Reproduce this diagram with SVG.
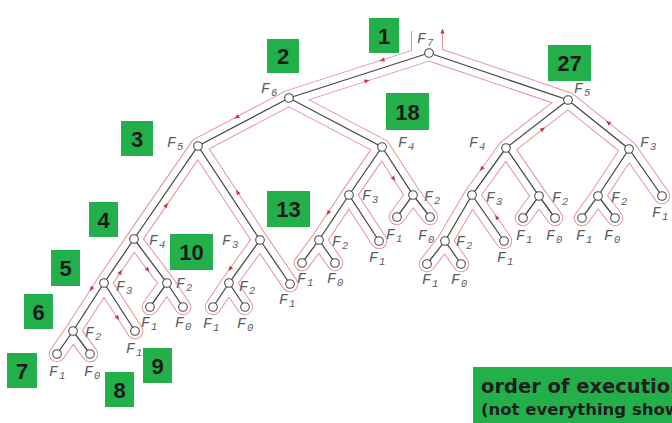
<svg xmlns="http://www.w3.org/2000/svg" xmlns:xlink="http://www.w3.org/1999/xlink" width="672" height="423" viewBox="0 0 672 423">
<style>
.tube-o{fill:none;stroke:#e3959b;stroke-width:16.5;stroke-linecap:round;stroke-linejoin:round}
.tube-i{fill:none;stroke:#ffffff;stroke-width:14.5;stroke-linecap:round;stroke-linejoin:round}
.top-o{fill:none;stroke:#e3959b;stroke-width:32;stroke-linecap:butt}
.top-i{fill:none;stroke:#ffffff;stroke-width:30;stroke-linecap:butt}
.edge{fill:none;stroke:#4a4a4a;stroke-width:1.3;stroke-linecap:round}
.node circle{fill:#ffffff;stroke:#4a4a4a;stroke-width:1.1}
.node text{font-family:"Liberation Mono","DejaVu Sans Mono",monospace;font-style:italic;font-size:15px;fill:#5c5c5c}
.node tspan{font-size:10.5px}
.badge rect{fill:#23b04b}
.badge text{font-family:"Liberation Sans",Arial,sans-serif;font-weight:bold;font-size:22px;fill:#1b1b1b;text-anchor:middle}
.note text{font-family:"DejaVu Sans",sans-serif;font-weight:bold;fill:#1f1f1f}
.ah{fill:#cc3344}
</style>
<defs>
<path id="tree" d="M429 53 L289 98 L198 146 L134 239 L104 283 L73 331 L57 354 M73 331 L90 354 M104 283 L135 331 M134 239 L167 283 L150 307 M167 283 L183 307 M198 146 L260 240 L229 283 L213 307 M229 283 L245 307 M260 240 L290 284 M289 98 L382 147 L349 195 L319 240 L302 263 M319 240 L335 263 M349 195 L379 241 M382 147 L413 195 L397 217 M413 195 L430 217 M429 53 L568 100 L506 148 L472 195 L445 241 L427 264 M445 241 L461 264 M472 195 L504 241 M506 148 L539 196 L523 218 M539 196 L555 218 M568 100 L629 149 L598 196 L582 218 M598 196 L615 218 M629 149 L662 196"/>
<path id="ahd" class="ah" d="M2.6 0 L-2.6 -2.1 L-2.6 2.1 Z"/>
</defs>

<g id="connectors">
  <g id="contour">
    <path class="top-o" d="M427 53 L427 31"/>
    <use xlink:href="#tree" class="tube-o"/>
    <path class="top-i" d="M427 53 L427 31"/>
    <use xlink:href="#tree" class="tube-i"/>
    <g id="contour-arrows">
      <use xlink:href="#ahd" transform="translate(442.5 31) rotate(-90)"/>
      <use xlink:href="#ahd" transform="translate(382 60.2) rotate(162)"/>
      <use xlink:href="#ahd" transform="translate(367 80.8) rotate(-18)"/>
      <use xlink:href="#ahd" transform="translate(236.5 117.2) rotate(152)"/>
      <use xlink:href="#ahd" transform="translate(237.3 192) rotate(237)"/>
      <use xlink:href="#ahd" transform="translate(166.5 205) rotate(-55.5)"/>
      <use xlink:href="#ahd" transform="translate(393.8 179) rotate(57)"/>
      <use xlink:href="#ahd" transform="translate(328 213) rotate(124)"/>
      <use xlink:href="#ahd" transform="translate(120.6 272) rotate(-56)"/>
      <use xlink:href="#ahd" transform="translate(147.9 270) rotate(53)"/>
      <use xlink:href="#ahd" transform="translate(91.2 289) rotate(123)"/>
      <use xlink:href="#ahd" transform="translate(117.7 318) rotate(57)"/>
      <use xlink:href="#ahd" transform="translate(229.9 269) rotate(126)"/>
      <use xlink:href="#ahd" transform="translate(543 128.9) rotate(-38)"/>
      <use xlink:href="#ahd" transform="translate(608 122.5) rotate(219)"/>
      <use xlink:href="#ahd" transform="translate(481.5 169) rotate(126)"/>
      <use xlink:href="#ahd" transform="translate(496.4 217) rotate(235)"/>
    </g>
  </g>
  <use xlink:href="#tree" class="edge"/>
</g>

<g id="nodes">
<g id="n1" class="node"><circle cx="429" cy="53" r="4.3"/><text x="417" y="43">F<tspan dx="1" dy="3">7</tspan></text></g>
<g id="n2" class="node"><circle cx="289" cy="98" r="4.3"/><text x="261" y="93">F<tspan dx="1" dy="3">6</tspan></text></g>
<g id="n3" class="node"><circle cx="198" cy="146" r="4.3"/><text x="167" y="147">F<tspan dx="1" dy="3">5</tspan></text></g>
<g id="n4" class="node"><circle cx="134" cy="239" r="4.3"/><text x="149" y="245">F<tspan dx="1" dy="3">4</tspan></text></g>
<g id="n5" class="node"><circle cx="104" cy="283" r="4.3"/><text x="116" y="291">F<tspan dx="1" dy="3">3</tspan></text></g>
<g id="n6" class="node"><circle cx="73" cy="331" r="4.3"/><text x="85" y="337">F<tspan dx="1" dy="3">2</tspan></text></g>
<g id="n7" class="node"><circle cx="57" cy="354" r="4.3"/><text x="49" y="376">F<tspan dx="1" dy="3">1</tspan></text></g>
<g id="n8" class="node"><circle cx="90" cy="354" r="4.3"/><text x="84" y="376">F<tspan dx="1" dy="3">0</tspan></text></g>
<g id="n9" class="node"><circle cx="135" cy="331" r="4.3"/><text x="126" y="353">F<tspan dx="1" dy="3">1</tspan></text></g>
<g id="n10" class="node"><circle cx="167" cy="283" r="4.3"/><text x="176" y="288">F<tspan dx="1" dy="3">2</tspan></text></g>
<g id="n11" class="node"><circle cx="150" cy="307" r="4.3"/><text x="141" y="327">F<tspan dx="1" dy="3">1</tspan></text></g>
<g id="n12" class="node"><circle cx="183" cy="307" r="4.3"/><text x="175" y="327">F<tspan dx="1" dy="3">0</tspan></text></g>
<g id="n13" class="node"><circle cx="260" cy="240" r="4.3"/><text x="222" y="245">F<tspan dx="1" dy="3">3</tspan></text></g>
<g id="n14" class="node"><circle cx="229" cy="283" r="4.3"/><text x="239" y="291">F<tspan dx="1" dy="3">2</tspan></text></g>
<g id="n15" class="node"><circle cx="213" cy="307" r="4.3"/><text x="203" y="328">F<tspan dx="1" dy="3">1</tspan></text></g>
<g id="n16" class="node"><circle cx="245" cy="307" r="4.3"/><text x="237" y="328">F<tspan dx="1" dy="3">0</tspan></text></g>
<g id="n17" class="node"><circle cx="290" cy="284" r="4.3"/><text x="279" y="304">F<tspan dx="1" dy="3">1</tspan></text></g>
<g id="n18" class="node"><circle cx="382" cy="147" r="4.3"/><text x="398" y="147">F<tspan dx="1" dy="3">4</tspan></text></g>
<g id="n19" class="node"><circle cx="349" cy="195" r="4.3"/><text x="362" y="200">F<tspan dx="1" dy="3">3</tspan></text></g>
<g id="n20" class="node"><circle cx="319" cy="240" r="4.3"/><text x="332" y="246">F<tspan dx="1" dy="3">2</tspan></text></g>
<g id="n21" class="node"><circle cx="302" cy="263" r="4.3"/><text x="297" y="283">F<tspan dx="1" dy="3">1</tspan></text></g>
<g id="n22" class="node"><circle cx="335" cy="263" r="4.3"/><text x="327" y="283">F<tspan dx="1" dy="3">0</tspan></text></g>
<g id="n23" class="node"><circle cx="379" cy="241" r="4.3"/><text x="369" y="262">F<tspan dx="1" dy="3">1</tspan></text></g>
<g id="n24" class="node"><circle cx="413" cy="195" r="4.3"/><text x="424" y="201">F<tspan dx="1" dy="3">2</tspan></text></g>
<g id="n25" class="node"><circle cx="397" cy="217" r="4.3"/><text x="386" y="239">F<tspan dx="1" dy="3">1</tspan></text></g>
<g id="n26" class="node"><circle cx="430" cy="217" r="4.3"/><text x="418" y="240">F<tspan dx="1" dy="3">0</tspan></text></g>
<g id="n27" class="node"><circle cx="568" cy="100" r="4.3"/><text x="574" y="93">F<tspan dx="1" dy="3">5</tspan></text></g>
<g id="n28" class="node"><circle cx="506" cy="148" r="4.3"/><text x="469" y="147">F<tspan dx="1" dy="3">4</tspan></text></g>
<g id="n29" class="node"><circle cx="472" cy="195" r="4.3"/><text x="486" y="202">F<tspan dx="1" dy="3">3</tspan></text></g>
<g id="n30" class="node"><circle cx="445" cy="241" r="4.3"/><text x="456" y="246">F<tspan dx="1" dy="3">2</tspan></text></g>
<g id="n31" class="node"><circle cx="427" cy="264" r="4.3"/><text x="422" y="284">F<tspan dx="1" dy="3">1</tspan></text></g>
<g id="n32" class="node"><circle cx="461" cy="264" r="4.3"/><text x="451" y="284">F<tspan dx="1" dy="3">0</tspan></text></g>
<g id="n33" class="node"><circle cx="504" cy="241" r="4.3"/><text x="497" y="262">F<tspan dx="1" dy="3">1</tspan></text></g>
<g id="n34" class="node"><circle cx="539" cy="196" r="4.3"/><text x="552" y="202">F<tspan dx="1" dy="3">2</tspan></text></g>
<g id="n35" class="node"><circle cx="523" cy="218" r="4.3"/><text x="516" y="240">F<tspan dx="1" dy="3">1</tspan></text></g>
<g id="n36" class="node"><circle cx="555" cy="218" r="4.3"/><text x="546" y="240">F<tspan dx="1" dy="3">0</tspan></text></g>
<g id="n37" class="node"><circle cx="629" cy="149" r="4.3"/><text x="640" y="147">F<tspan dx="1" dy="3">3</tspan></text></g>
<g id="n38" class="node"><circle cx="598" cy="196" r="4.3"/><text x="611" y="202">F<tspan dx="1" dy="3">2</tspan></text></g>
<g id="n39" class="node"><circle cx="582" cy="218" r="4.3"/><text x="576" y="240">F<tspan dx="1" dy="3">1</tspan></text></g>
<g id="n40" class="node"><circle cx="615" cy="218" r="4.3"/><text x="604" y="240">F<tspan dx="1" dy="3">0</tspan></text></g>
<g id="n41" class="node"><circle cx="662" cy="196" r="4.3"/><text x="652" y="217">F<tspan dx="1" dy="3">1</tspan></text></g>
</g>

<g id="badges">
<g id="b1" class="badge"><rect x="369" y="18" width="30" height="35"/><text x="384" y="43.5">1</text></g>
<g id="b2" class="badge"><rect x="267" y="39" width="32" height="34"/><text x="283" y="64">2</text></g>
<g id="b3" class="badge"><rect x="121" y="121" width="32" height="35"/><text x="137" y="146.5">3</text></g>
<g id="b4" class="badge"><rect x="89" y="202" width="29" height="35"/><text x="103.5" y="227.5">4</text></g>
<g id="b5" class="badge"><rect x="51" y="250" width="29" height="36"/><text x="65.5" y="276">5</text></g>
<g id="b6" class="badge"><rect x="24" y="294" width="29" height="35"/><text x="38.5" y="319.5">6</text></g>
<g id="b7" class="badge"><rect x="7" y="353" width="30" height="35"/><text x="22" y="378.5">7</text></g>
<g id="b8" class="badge"><rect x="105" y="372" width="29" height="35"/><text x="119.5" y="397.5">8</text></g>
<g id="b9" class="badge"><rect x="143" y="348" width="29" height="35"/><text x="157.5" y="373.5">9</text></g>
<g id="b10" class="badge"><rect x="170" y="234" width="43" height="36"/><text x="191.5" y="260">10</text></g>
<g id="b13" class="badge"><rect x="267" y="191" width="43" height="36"/><text x="288.5" y="217">13</text></g>
<g id="b18" class="badge"><rect x="386" y="93" width="43" height="37"/><text x="407.5" y="119.5">18</text></g>
<g id="b27" class="badge"><rect x="548" y="45" width="43" height="36"/><text x="569.5" y="71">27</text></g>
</g>

<g id="note" class="note">
<rect x="473" y="367" width="210" height="60" fill="#23b04b"/>
<text x="481" y="393" font-size="19.5">order of execution</text>
<text x="481" y="415" font-size="16.5">(not everything shown)</text>
</g>
</svg>
